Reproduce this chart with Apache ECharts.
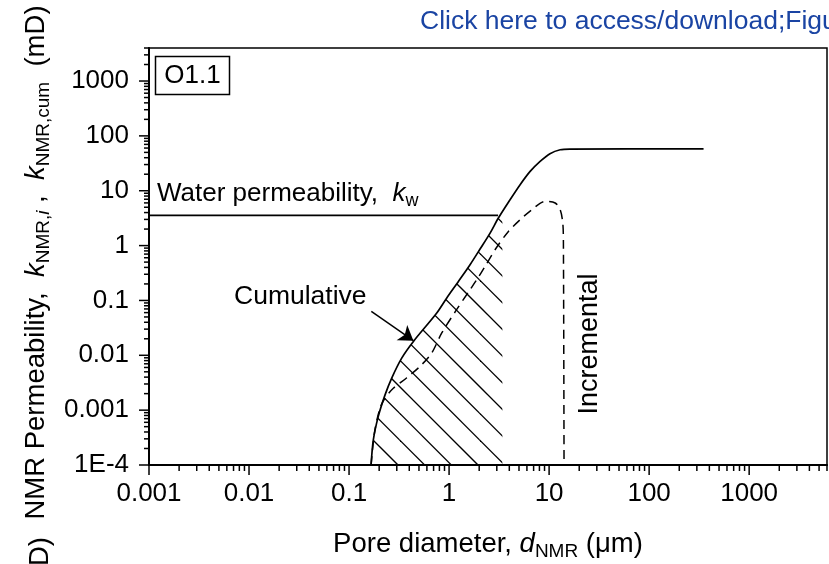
<!DOCTYPE html>
<html><head><meta charset="utf-8">
<script src="https://cdn.jsdelivr.net/npm/echarts@6/dist/echarts.min.js"></script>
<style>html,body{margin:0;padding:0;background:#fff}#c{width:829px;height:564px}</style>
</head><body><div id="c"></div>
<script>
const FONT = '"Liberation Sans", Arial, Helvetica, sans-serif';

// ---- data ----
const cumDiameter = [0.166, 0.175, 0.196, 0.229, 0.267, 0.336, 0.44, 0.753, 0.948, 1.24, 1.62, 2.04, 2.57, 3.11, 4.07, 5.13, 6.46, 8.13, 10.2, 12.9, 16.2, 350];
const cumPerm     = [1e-4, 2.9e-4, 7.7e-4, 1.9e-3, 3.85e-3, 8.9e-3, 0.0179, 0.059, 0.111, 0.222, 0.448, 0.865, 1.69, 3.18, 6.86, 12.9, 22.5, 34.2, 47.3, 55.9, 57.5, 58];
const incDiameter = [0.166, 0.18, 0.204, 0.229, 0.277, 0.378, 0.513, 0.67, 0.845, 1.17, 1.62, 1.89, 2.29, 2.88, 3.92, 5.13, 6.71, 9.12, 11.5, 12.9, 13.7, 13.9, 14.1];
const incPerm     = [1e-4, 4e-4, 1.09e-3, 1.66e-3, 2.5e-3, 3.9e-3, 6.3e-3, 0.011, 0.0255, 0.065, 0.157, 0.239, 0.417, 0.84, 1.81, 2.96, 4.5, 6.38, 5.97, 4.5, 2.58, 1.11, 1e-4];
const waterPerm = 3.55;
const waterDiameter = [0.001, 3.09];
const hatchEndDiameter = 3.41;
const hatchEndPerm = 4.1;
const arrowFrom = [0.167, 0.063];
const arrowTo = [0.44, 0.0185];
const xRange = [0.001, 6000];
const yRange = [1e-4, 4000];
const xTickValues = [0.001, 0.01, 0.1, 1, 10, 100, 1000];
const xTickLabels = ['0.001', '0.01', '0.1', '1', '10', '100', '1000'];
const yTickValues = [1e-4, 0.001, 0.01, 0.1, 1, 10, 100, 1000];
const yTickLabels = ['1E-4', '0.001', '0.01', '0.1', '1', '10', '100', '1000'];

// ---- helpers ----
function labelFor(v, vals, labels) {
  for (let i = 0; i < vals.length; i++) {
    if (Math.abs(Math.log10(v) - Math.log10(vals[i])) < 1e-6) return labels[i];
  }
  return '';
}
function isMajor(v) { const l = Math.log10(v); return Math.abs(l - Math.round(l)) < 1e-6; }
function tickSet(majors, maxV) {
  const out = [];
  majors.forEach(b => { for (let m = 1; m <= 9; m++) { const v = m * b; if (v <= maxV * 1.0001) out.push(v); } });
  return out;
}
function hatchPattern() {
  const S = 80, c = document.createElement('canvas');
  c.width = S; c.height = S;
  const g = c.getContext('2d');
  g.strokeStyle = '#000'; g.lineWidth = 1.3;
  const step = S / 3;
  for (let k = -5; k <= 5; k++) {
    const off = 13.67 + k * step;
    g.beginPath(); g.moveTo(-10, -10 + off); g.lineTo(S + 10, S + 10 + off); g.stroke();
  }
  return c;
}

const cumData = cumDiameter.map((d, i) => [d, cumPerm[i]]);
const incData = incDiameter.map((d, i) => [d, incPerm[i]]);
const hatchData = cumData.filter(p => p[0] < hatchEndDiameter).concat([[hatchEndDiameter, hatchEndPerm]]);
const waterData = waterDiameter.map(d => [d, waterPerm]);
const xTicksAll = tickSet(xTickValues, xRange[1]).map(v => [v, yRange[0]]);
const yTicksAll = tickSet(yTickValues, yRange[1]).map(v => [xRange[0], v]);

function richSet(size, subSize, lh) {
  const sub = (italic) => ({ fontSize: subSize, lineHeight: subSize, verticalAlign: 'bottom', fontFamily: FONT, color: '#000', fontStyle: italic ? 'italic' : 'normal' });
  return {
    i: { fontStyle: 'italic', fontSize: size, lineHeight: lh, fontFamily: FONT, color: '#000' },
    n: { fontSize: size, lineHeight: lh, fontFamily: FONT, color: '#000' },
    s: sub(false),
    si: sub(true)
  };
}
const richTitle = richSet(27.5, 19, 34);
const richNote = richSet(26, 18, 32);

const chart = echarts.init(document.getElementById('c'), null, { renderer: 'canvas' });
chart.setOption({
  animation: false,
  backgroundColor: '#fff',
  grid: { left: 149, top: 48, width: 678, height: 417, show: true, borderColor: '#000', borderWidth: 1.5, backgroundColor: 'transparent', outerBoundsMode: 'none' },
  xAxis: {
    type: 'log', logBase: 10, min: xRange[0], max: xRange[1],
    axisLine: { show: true, lineStyle: { color: '#000', width: 2 } },
    axisTick: { show: false }, splitLine: { show: false }, minorTick: { show: false },
    axisLabel: { margin: 16, color: '#000', fontSize: 26, fontFamily: FONT, showMaxLabel: false,
      formatter: v => labelFor(v, xTickValues, xTickLabels) },
    name: '{n|Pore diameter, }{i|d}{s|NMR}{n| (μm)}',
    nameLocation: 'middle', nameGap: 62,
    nameTextStyle: { fontSize: 27.5, fontFamily: FONT, color: '#000', lineHeight: 34, rich: richTitle }
  },
  yAxis: {
    type: 'log', logBase: 10, min: yRange[0], max: yRange[1],
    axisLine: { show: true, lineStyle: { color: '#000', width: 2 } },
    axisTick: { show: false }, splitLine: { show: false }, minorTick: { show: false },
    axisLabel: { margin: 20, color: '#000', fontSize: 26, fontFamily: FONT, showMaxLabel: false,
      formatter: v => labelFor(v, yTickValues, yTickLabels) },
    name: '{n|NMR Permeability,  }{i|k}{s|NMR,}{si|i}{n| ,  }{i|k}{s|NMR,cum}{n|  (mD)}',
    nameLocation: 'middle', nameGap: 91, nameRotate: 90,
    nameTextStyle: { fontSize: 27.5, fontFamily: FONT, color: '#000', lineHeight: 34, rich: richTitle, padding: [0, 12, 0, 0] }
  },
  series: [
    {
      type: 'line', data: hatchData, smooth: 0.3, symbol: 'none', z: 1,
      lineStyle: { width: 0, opacity: 0 },
      areaStyle: { origin: 'start', opacity: 1, color: { image: hatchPattern(), repeat: 'repeat' } }
    },
    {
      type: 'line', data: waterData, symbol: 'none', z: 3,
      lineStyle: { color: '#000', width: 1.6 }
    },
    {
      type: 'line', data: incData, smooth: 0.3, symbol: 'none', z: 3,
      lineStyle: { color: '#000', width: 1.5, type: [9, 6] }
    },
    {
      type: 'line', data: cumData, smooth: 0.3, symbol: 'none', z: 4,
      lineStyle: { color: '#000', width: 1.7 },
      markLine: {
        silent: true, symbol: ['none', 'arrow'], symbolSize: 14,
        label: { show: false },
        lineStyle: { color: '#000', width: 1.5, type: 'solid' },
        itemStyle: { color: '#000' },
        data: [[{ coord: arrowFrom }, { coord: arrowTo }]]
      }
    },
    {
      type: 'custom', data: xTicksAll, clip: false, z: 10, silent: true,
      renderItem: (params, api) => {
        const v = api.value(0);
        const p = api.coord([v, yRange[0]]);
        const len = isMajor(v) ? 10 : 6;
        return { type: 'line', shape: { x1: p[0], y1: p[1], x2: p[0], y2: p[1] + len }, style: { stroke: '#000', lineWidth: 1.5 } };
      }
    },
    {
      type: 'custom', data: yTicksAll, clip: false, z: 10, silent: true,
      renderItem: (params, api) => {
        const v = api.value(1);
        const p = api.coord([xRange[0], v]);
        const len = isMajor(v) ? 10 : 5;
        return { type: 'line', shape: { x1: p[0] - len, y1: p[1], x2: p[0], y2: p[1] }, style: { stroke: '#000', lineWidth: 1.5 } };
      }
    }
  ],
  graphic: [
    { type: 'rect', shape: { x: 155.5, y: 56.5, width: 74, height: 38 }, style: { fill: '#fff', stroke: '#000', lineWidth: 1.5 }, z: 20 },
    { type: 'text', x: 192.5, y: 76, z: 21, style: { text: 'O1.1', font: '26px ' + FONT, fill: '#000', align: 'center', verticalAlign: 'middle' } },
    { type: 'text', x: 157, y: 194, z: 21, style: { text: '{n|Water permeability,  }{i|k}{s|w}', rich: richNote, font: '26px ' + FONT, fill: '#000', align: 'left', verticalAlign: 'middle' } },
    { type: 'text', x: 234, y: 297, z: 21, style: { text: 'Cumulative', font: '26.5px ' + FONT, fill: '#000', align: 'left', verticalAlign: 'middle' } },
    { type: 'text', x: 590, y: 344, rotation: Math.PI / 2, z: 21, style: { text: 'Incremental', font: '27px ' + FONT, fill: '#000', align: 'center', verticalAlign: 'middle' } },
    { type: 'text', x: 420, y: 22, z: 21, style: { text: 'Click here to access/download;Figure', font: '26.5px ' + FONT, fill: '#1a44a3', align: 'left', verticalAlign: 'middle' } },
    { type: 'text', x: 40, y: 537, rotation: Math.PI / 2, z: 21, style: { text: '(mD)', font: '27.5px ' + FONT, fill: '#000', align: 'right', verticalAlign: 'middle' } }
  ]
});
</script></body></html>
